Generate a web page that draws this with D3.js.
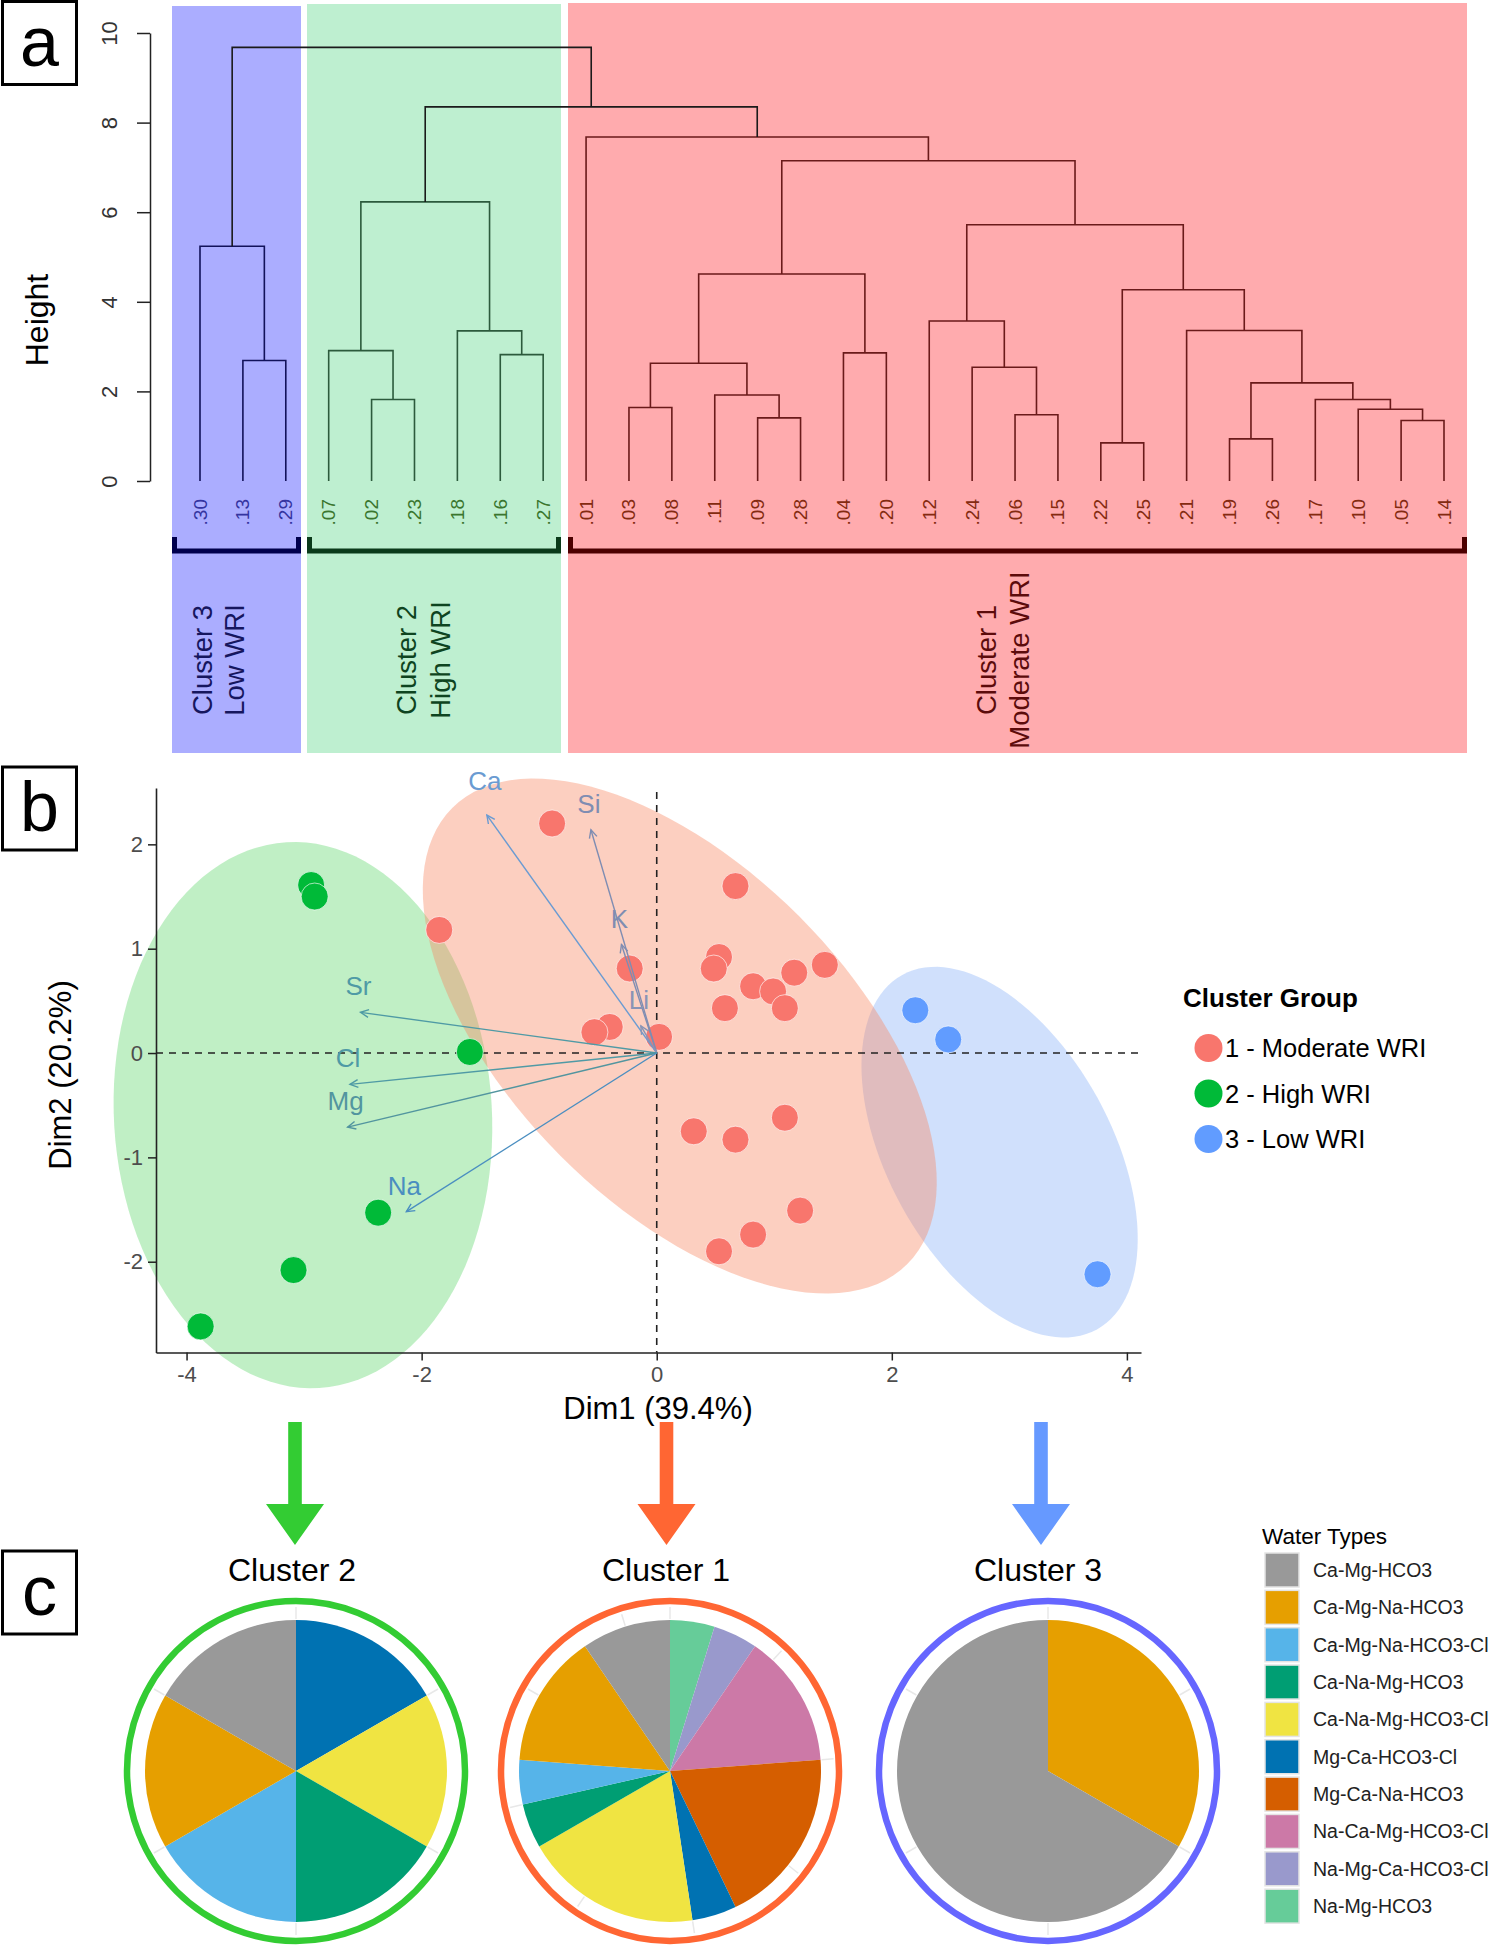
<!DOCTYPE html>
<html><head><meta charset="utf-8">
<script src="https://cdn.jsdelivr.net/npm/d3@7"></script>
<style>
body{margin:0;background:#fff}
svg{display:block}
text{font-family:"Liberation Sans",Arial,sans-serif}
</style>
</head><body>
<svg id="chart" width="1491" height="1948"></svg>
<script>
// ================= DATA =================
// Panel a : dendrogram
const cluster3Leaves = [".30", ".13", ".29"];
const cluster2Leaves = [".07", ".02", ".23", ".18", ".16", ".27"];
const cluster1Leaves = [".01", ".03", ".08", ".11", ".09", ".28", ".04", ".20", ".12", ".24", ".06", ".15", ".22", ".25", ".21", ".19", ".26", ".17", ".10", ".05", ".14"];
const heightTicks = [0, 2, 4, 6, 8, 10];
// merges: [id, left child, right child, height]
const merges = [
  ["m1", ".13", ".29", 2.69],
  ["m2", ".30", "m1", 5.24],
  ["m3", ".02", ".23", 1.82],
  ["m4", ".07", "m3", 2.91],
  ["m5", ".16", ".27", 2.82],
  ["m6", ".18", "m5", 3.35],
  ["m7", "m4", "m6", 6.23],
  ["m8", ".03", ".08", 1.64],
  ["m9", ".09", ".28", 1.41],
  ["m10", ".11", "m9", 1.92],
  ["m11", "m8", "m10", 2.63],
  ["m12", ".04", ".20", 2.86],
  ["m13", "m11", "m12", 4.62],
  ["m14", ".06", ".15", 1.48],
  ["m15", ".24", "m14", 2.54],
  ["m16", ".12", "m15", 3.57],
  ["m17", ".22", ".25", 0.85],
  ["m18", ".19", ".26", 0.94],
  ["m19", ".05", ".14", 1.35],
  ["m20", ".10", "m19", 1.60],
  ["m21", ".17", "m20", 1.82],
  ["m22", "m18", "m21", 2.19],
  ["m23", ".21", "m22", 3.36],
  ["m24", "m17", "m23", 4.27],
  ["m25", "m16", "m24", 5.72],
  ["m26", "m13", "m25", 7.15],
  ["m27", ".01", "m26", 7.68],
  ["m28", "m7", "m27", 8.35],
  ["m29", "m2", "m28", 9.68]
];
const clusterTitles = [["Cluster 3", "Low WRI"], ["Cluster 2", "High WRI"], ["Cluster 1", "Moderate WRI"]];

// Panel b : PCA biplot
const dimTicksX = [-4, -2, 0, 2, 4];
const dimTicksY = [-2, -1, 0, 1, 2];
const clus1X = [-0.89, 0.67, -1.85, 0.53, 0.485, -0.23, 0.82, 0.58, -0.40, -0.53, 0.02, 0.315, 0.67, 0.82, 0.53, 1.17, 1.43, 0.99, 1.09, 1.09, 1.22];
const clus1Y = [2.20, 1.60, 1.18, 0.92, 0.81, 0.81, 0.64, 0.43, 0.25, 0.20, 0.155, -0.75, -0.83, -1.74, -1.90, 0.77, 0.845, 0.59, 0.43, -0.62, -1.51];
const clus2X = [-2.94, -2.91, -1.59, -2.37, -3.09, -3.88];
const clus2Y = [1.61, 1.50, 0.01, -1.53, -2.08, -2.62];
const clus3X = [2.20, 2.48, 3.75];
const clus3Y = [0.41, 0.13, -2.12];
// ellipse: centre + U*cos t + V*sin t (data units)
const ellipseGreen = {cx: -3.01, cy: -0.595, ux: -0.139, uy: 2.615, vx: 1.605, vy: 0.108};
const ellipseBlue  = {cx: 2.917, cy: -0.950, ux: 0.828, uy: -1.699, vx: -0.834, vy: -0.518};
const ellipseRed   = {cx: 0.196, cy: 0.163, ux: 1.936, uy: -2.185, vx: -1.016, vy: -1.147};
const pcaVars = ["Ca", "Si", "K", "Li", "Sr", "Cl", "Mg", "Na"];
const pcaX = [-1.445, -0.56, -0.30, -0.135, -2.52, -2.61, -2.63, -2.13];
const pcaY = [2.28, 2.14, 1.04, 0.26, 0.39, -0.30, -0.71, -1.52];
const clusterGroupLabels = ["1 - Moderate WRI", "2 - High WRI", "3 - Low WRI"];

// Panel c : water types per cluster
const waterTypes = ["Ca-Mg-HCO3", "Ca-Mg-Na-HCO3", "Ca-Mg-Na-HCO3-Cl", "Ca-Na-Mg-HCO3", "Ca-Na-Mg-HCO3-Cl", "Mg-Ca-HCO3-Cl", "Mg-Ca-Na-HCO3", "Na-Ca-Mg-HCO3-Cl", "Na-Mg-Ca-HCO3-Cl", "Na-Mg-HCO3"];
const cluster2Counts = [1, 1, 1, 1, 1, 1, 0, 0, 0, 0];
const cluster1Counts = [2, 3, 1, 1, 4, 1, 4, 3, 1, 1];
const cluster3Counts = [2, 1, 0, 0, 0, 0, 0, 0, 0, 0];
const pieTitles = ["Cluster 2", "Cluster 1", "Cluster 3"];

// ================= STYLES =================
const waterColors = ["#999999", "#E69F00", "#56B4E9", "#009E73", "#F0E442", "#0072B2", "#D55E00", "#CC79A7", "#9999CC", "#66CC99"];
const pointColors = ["#F8766D", "#00BA38", "#619CFF"];
const varColors = ["#6a9bd2", "#7f8db2", "#7f8db2", "#8894b6", "#4f9aa5", "#4f9aa5", "#52959f", "#4a8ec0"];

const svg = d3.select("#chart");
svg.append("rect").attr("width", 1491).attr("height", 1948).attr("fill", "#fff");

function panelBox(letter, y0) {
  svg.append("rect").attr("x", 2.5).attr("y", y0).attr("width", 74).attr("height", 83)
    .attr("fill", "#fff").attr("stroke", "#000").attr("stroke-width", 3);
  svg.append("text").attr("x", 39.5).attr("y", y0 + 64).attr("text-anchor", "middle")
    .attr("font-size", 70).attr("fill", "#000").text(letter);
}

// ================= PANEL A =================
const leafOrder = cluster3Leaves.concat(cluster2Leaves, cluster1Leaves);
const xLeaf = d3.scalePoint().domain(leafOrder).range([200, 1444]);
const yH = d3.scaleLinear().domain([0, 10]).range([481, 33]);

const clusterStyles = [
  {leaves: cluster3Leaves, x0: 172, x1: 301, y0: 6, bg: "#ABADFF", link: "#12125a", leafText: "#3434a0", title: "#16165e", bracket: "#00004d", tx: [202, 234]},
  {leaves: cluster2Leaves, x0: 307, x1: 561, y0: 4, bg: "#BEEFD0", link: "#2c5a3c", leafText: "#3a762e", title: "#0e4420", bracket: "#0b3a1a", tx: [406, 440]},
  {leaves: cluster1Leaves, x0: 568, x1: 1467, y0: 3, bg: "#FFABAE", link: "#6a1a1a", leafText: "#842a10", title: "#5c0b0b", bracket: "#4d0000", tx: [986, 1019]}
];
const gA = svg.append("g");
clusterStyles.forEach((c, i) => {
  gA.append("rect").attr("x", c.x0).attr("y", c.y0).attr("width", c.x1 - c.x0).attr("height", 753 - c.y0).attr("fill", c.bg);
  gA.append("path").attr("d", `M${c.x0 + 2.5},537V551H${c.x1 - 2.5}V537`)
    .attr("fill", "none").attr("stroke", c.bracket).attr("stroke-width", 5);
  clusterTitles[i].forEach((t, j) => {
    gA.append("text").attr("transform", `translate(${c.tx[j]},660) rotate(-90)`)
      .attr("text-anchor", "middle").attr("dominant-baseline", "central")
      .attr("font-size", 27.5).attr("fill", c.title).text(t);
  });
});
const leafCluster = {};
clusterStyles.forEach((c, i) => c.leaves.forEach(l => leafCluster[l] = i));

const nodes = {};
leafOrder.forEach(l => nodes[l] = {x: xLeaf(l), h: 0, cl: new Set([leafCluster[l]])});
merges.forEach(([id, a, b, h]) => {
  const A = nodes[a], B = nodes[b];
  nodes[id] = {x: (A.x + B.x) / 2, h: h, cl: new Set([...A.cl, ...B.cl])};
  const col = nodes[id].cl.size === 1 ? clusterStyles[[...nodes[id].cl][0]].link : "#1a1a1a";
  gA.append("path")
    .attr("d", `M${A.x},${yH(A.h)}V${yH(h)}H${B.x}V${yH(B.h)}`)
    .attr("fill", "none").attr("stroke", col).attr("stroke-width", 1.6);
});
leafOrder.forEach(l => {
  gA.append("text").attr("transform", `translate(${xLeaf(l)},499) rotate(-90)`)
    .attr("text-anchor", "end").attr("dominant-baseline", "central")
    .attr("font-size", 19).attr("fill", clusterStyles[leafCluster[l]].leafText).text(l);
});
const axA = gA.append("g").attr("transform", "translate(150,0)")
  .call(d3.axisLeft(yH).tickValues(heightTicks).tickSize(13).tickSizeOuter(0).tickFormat(d3.format("d")));
axA.select(".domain").attr("stroke", "#222").attr("stroke-width", 1.5);
axA.selectAll(".tick line").attr("stroke", "#222").attr("stroke-width", 1.5);
axA.selectAll(".tick text").attr("x", null).attr("dy", null)
  .attr("transform", "translate(-41,0) rotate(-90)").attr("text-anchor", "middle")
  .attr("dominant-baseline", "central").attr("font-size", 22).attr("fill", "#333")
  .style("font-family", '"Liberation Sans", Arial, sans-serif');
gA.append("text").attr("transform", "translate(37,320) rotate(-90)").attr("text-anchor", "middle")
  .attr("dominant-baseline", "central").attr("font-size", 32).attr("fill", "#000").text("Height");
panelBox("a", 1.5);

// ================= PANEL B =================
const xD = d3.scaleLinear().domain([-4.26, 4.12]).range([156, 1141]);
const yD = d3.scaleLinear().domain([-2.87, 2.54]).range([1352.5, 788]);
const gB = svg.append("g");
function drawEllipse(e, fill) {
  const pts = d3.range(0, 121).map(k => {
    const t = k / 120 * 2 * Math.PI;
    return [xD(e.cx + e.ux * Math.cos(t) + e.vx * Math.sin(t)), yD(e.cy + e.uy * Math.cos(t) + e.vy * Math.sin(t))];
  });
  gB.append("path").attr("d", d3.line().curve(d3.curveLinearClosed)(pts))
    .attr("fill", fill).attr("fill-opacity", 0.4).attr("stroke", "none");
}
drawEllipse(ellipseGreen, "rgb(98,215,110)");
drawEllipse(ellipseBlue, "rgb(138,178,248)");
drawEllipse(ellipseRed, "rgb(248,135,98)");

// dashed reference lines
gB.append("line").attr("x1", xD.range()[0]).attr("x2", xD.range()[1]).attr("y1", yD(0)).attr("y2", yD(0))
  .attr("stroke", "#222").attr("stroke-width", 1.6).attr("stroke-dasharray", "7,6");
gB.append("line").attr("x1", xD(0)).attr("x2", xD(0)).attr("y1", 792).attr("y2", yD.range()[0])
  .attr("stroke", "#222").attr("stroke-width", 1.6).attr("stroke-dasharray", "7,6");

// axes
const axBx = gB.append("g").attr("transform", `translate(0,${yD.range()[0]})`)
  .call(d3.axisBottom(xD).tickValues(dimTicksX).tickSize(8).tickSizeOuter(0).tickPadding(6));
const axBy = gB.append("g").attr("transform", `translate(${xD.range()[0]},0)`)
  .call(d3.axisLeft(yD).tickValues(dimTicksY).tickSize(8).tickSizeOuter(0).tickPadding(5));
[axBx, axBy].forEach(ax => {
  ax.select(".domain").attr("stroke", "#222").attr("stroke-width", 1.6);
  ax.selectAll(".tick line").attr("stroke", "#222").attr("stroke-width", 1.5);
  ax.selectAll(".tick text").attr("font-size", 22).attr("fill", "#4d4d4d")
    .style("font-family", '"Liberation Sans", Arial, sans-serif');
});
axBx.selectAll(".tick text").text(d => d3.format("d")(d).replace("−", "-"));
axBy.selectAll(".tick text").text(d => d3.format("d")(d).replace("−", "-"));

// points
const groups = [[clus1X, clus1Y], [clus2X, clus2Y], [clus3X, clus3Y]];
groups.forEach(([xs, ys], gi) => {
  xs.forEach((xv, k) => {
    gB.append("circle").attr("cx", xD(xv)).attr("cy", yD(ys[k])).attr("r", 13.5)
      .attr("fill", pointColors[gi]).attr("stroke", "#fff").attr("stroke-width", 0.8).attr("stroke-opacity", 0.8);
  });
});

// variable arrows
pcaVars.forEach((v, i) => {
  const x0 = xD(0), y0 = yD(0), x1 = xD(pcaX[i]), y1 = yD(pcaY[i]);
  const ang = Math.atan2(y1 - y0, x1 - x0);
  const L = 9, a = 0.45;
  gB.append("line").attr("x1", x0).attr("y1", y0).attr("x2", x1).attr("y2", y1)
    .attr("stroke", varColors[i]).attr("stroke-width", 1.4);
  gB.append("path")
    .attr("d", `M${x1 - L * Math.cos(ang - a)},${y1 - L * Math.sin(ang - a)}L${x1},${y1}L${x1 - L * Math.cos(ang + a)},${y1 - L * Math.sin(ang + a)}`)
    .attr("fill", "none").attr("stroke", varColors[i]).attr("stroke-width", 1.4);
  gB.append("text").attr("x", x1 - 2).attr("y", y1 - (i === 0 ? 25 : 17)).attr("text-anchor", "middle")
    .attr("font-size", 26).attr("fill", varColors[i]).text(v);
});

gB.append("text").attr("transform", "translate(60,1075) rotate(-90)").attr("text-anchor", "middle")
  .attr("dominant-baseline", "central").attr("font-size", 31).attr("fill", "#000").text("Dim2 (20.2%)");
gB.append("text").attr("x", 658).attr("y", 1419).attr("text-anchor", "middle")
  .attr("font-size", 31).attr("fill", "#000").text("Dim1 (39.4%)");

// legend
gB.append("text").attr("x", 1183).attr("y", 1007).attr("font-size", 26).attr("font-weight", "bold")
  .attr("fill", "#000").text("Cluster Group");
clusterGroupLabels.forEach((t, i) => {
  const cy = 1048 + i * 45.5;
  gB.append("circle").attr("cx", 1208.5).attr("cy", cy).attr("r", 14).attr("fill", pointColors[i]);
  gB.append("text").attr("x", 1225).attr("y", cy + 9).attr("font-size", 25.5).attr("fill", "#000").text(t);
});
panelBox("b", 767);

// ================= PANEL C =================
const gC = svg.append("g");
const pieCenters = [296, 670, 1048];
const pieCounts = [cluster2Counts, cluster1Counts, cluster3Counts];
const ringColors = ["#33CC33", "#FF6633", "#6666FF"];
const arrowX = [295, 666.5, 1041];
const arrowColors = ["#33CC33", "#FF6633", "#6699FF"];
const cyPie = 1771;
const pieGen = d3.pie().sort(null).value(d => d.n);
const arcGen = d3.arc().innerRadius(0).outerRadius(151);
pieCenters.forEach((cx, i) => {
  const ax = arrowX[i];
  gC.append("path")
    .attr("d", `M${ax - 6.8},1422H${ax + 6.8}V1504H${ax + 29}L${ax},1545L${ax - 29},1504H${ax - 6.8}Z`)
    .attr("fill", arrowColors[i]);
  gC.append("text").attr("x", cx - 4 + (i === 2 ? -6 : 0)).attr("y", 1581).attr("text-anchor", "middle")
    .attr("font-size", 32).attr("fill", "#000").text(pieTitles[i]);
  const data = waterTypes.map((t, k) => ({t: t, n: pieCounts[i][k], c: waterColors[k]})).reverse().filter(d => d.n > 0);
  const total = d3.sum(data, d => d.n);
  const g = gC.append("g").attr("transform", `translate(${cx},${cyPie})`);
  const step = total > 10 ? 2.5 : (total > 4 ? 1 : 0.5);
  d3.range(0, total, step).forEach(b => {
    const a = b / total * 2 * Math.PI;
    g.append("line").attr("x1", 152 * Math.sin(a)).attr("y1", -152 * Math.cos(a))
      .attr("x2", 164 * Math.sin(a)).attr("y2", -164 * Math.cos(a))
      .attr("stroke", "#e8e8e8").attr("stroke-width", 1.5);
  });
  g.selectAll("path.slice").data(pieGen(data)).join("path").attr("class", "slice")
    .attr("d", arcGen).attr("fill", d => d.data.c);
  g.append("ellipse").attr("rx", 169).attr("ry", 170).attr("fill", "none")
    .attr("stroke", ringColors[i]).attr("stroke-width", 6.5);
});

gC.append("text").attr("x", 1262).attr("y", 1544).attr("font-size", 22.5).attr("fill", "#000").text("Water Types");
waterTypes.forEach((t, k) => {
  const y = 1553 + k * 37.35;
  gC.append("rect").attr("x", 1265).attr("y", y).attr("width", 34).attr("height", 34)
    .attr("fill", waterColors[k]).attr("stroke", "#e4e4e4").attr("stroke-width", 1.5);
  gC.append("text").attr("x", 1313).attr("y", y + 24).attr("font-size", 19.5).attr("fill", "#222").text(t);
});
panelBox("c", 1551);
</script>
</body></html>
